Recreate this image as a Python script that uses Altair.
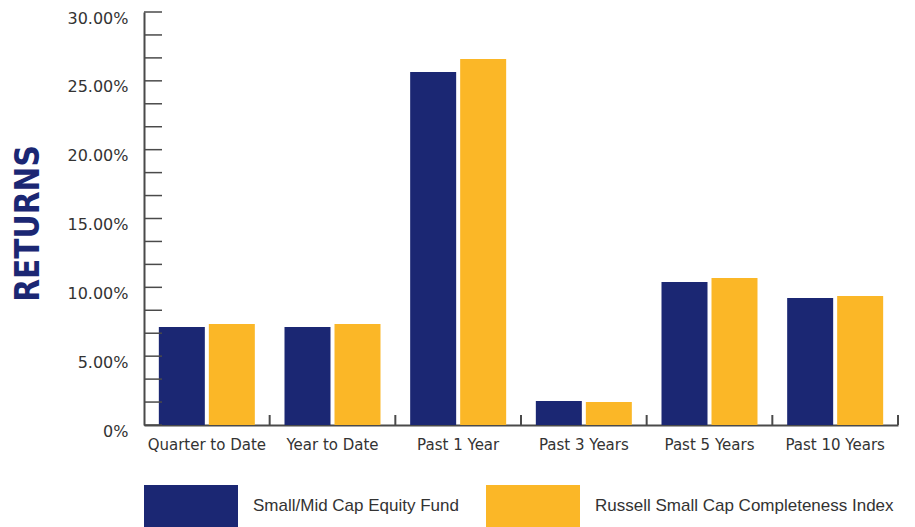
import altair as alt
import pandas as pd

periods = ["Quarter to Date", "Year to Date", "Past 1 Year", "Past 3 Years", "Past 5 Years", "Past 10 Years"]
series = ["Small/Mid Cap Equity Fund", "Russell Small Cap Completeness Index"]
fund = [7.12, 7.12, 25.64, 1.74, 10.38, 9.22]
index_vals = [7.33, 7.33, 26.58, 1.67, 10.67, 9.37]
colors = ["#1b2773", "#fbb727"]
y_label_values = [0, 5, 10, 15, 20, 25, 30]
y_tick_values = [i * 30 / 18 for i in range(19)]

rows = []
for p, f, ix in zip(periods, fund, index_vals):
    rows.append({"period": p, "series": series[0], "value": f})
    rows.append({"period": p, "series": series[1], "value": ix})
df = pd.DataFrame(rows)
ticks_df = pd.DataFrame({"v": y_tick_values})
per_df = pd.DataFrame({"period": periods})

AXC = "#4a4a4a"
TXT = "#333333"
PH = 413

yscale = alt.Scale(domain=[0, 30], nice=False, zero=True)
xscale = alt.Scale(domain=periods, paddingInner=0, paddingOuter=0)

bars = alt.Chart(df).mark_bar().encode(
    x=alt.X("period:N", sort=periods, scale=xscale, title=None,
            axis=alt.Axis(labelAngle=0, ticks=False, domainColor=AXC, domainWidth=2,
                          labelFont="DejaVu Sans", labelFontSize=15, labelColor=TXT,
                          labelPadding=12, labelLimit=200)),
    xOffset=alt.XOffset("series:N", sort=series,
                        scale=alt.Scale(domain=series, paddingInner=0.08, paddingOuter=0.2967)),
    y=alt.Y("value:Q", scale=yscale, title="RETURNS",
            axis=alt.Axis(values=y_label_values, ticks=False, tickSize=0, grid=False,
                          domainColor=AXC, domainWidth=2,
                          labelExpr="datum.value == 0 ? '0%' : format(datum.value, '.2f') + '%'",
                          labelFont="DejaVu Sans", labelFontSize=16, labelColor=TXT,
                          labelPadding=16, labelOffset=6,
                          titleFont="DejaVu Sans Condensed, sans-serif",
                          titleFontWeight="bold", titleFontSize=33, titleColor="#1b2773",
                          titleAngle=270, titleX=-116, titleY=211,
                          titleAlign="center", titleBaseline="middle")),
    color=alt.Color("series:N", sort=series,
                    scale=alt.Scale(domain=series, range=colors),
                    legend=alt.Legend(title=None, orient="none", legendX=0, legendY=447,
                                      direction="horizontal", columns=2, columnPadding=27,
                                      symbolType="M-1,-0.4468H1V0.4468H-1Z", symbolSize=8836,
                                      symbolStrokeWidth=0, symbolOpacity=1, labelOffset=15,
                                      labelFont="Liberation Sans", labelFontSize=17,
                                      labelColor=TXT, labelLimit=400)),
)

yticks = alt.Chart(ticks_df).mark_rule(color=AXC, strokeWidth=1.5).encode(
    y=alt.Y("v:Q", scale=yscale),
    x=alt.value(0),
    x2=alt.value(18),
)

xticks = alt.Chart(per_df).mark_rule(color=AXC, strokeWidth=2).encode(
    x=alt.X("period:N", sort=periods, scale=xscale, bandPosition=1),
    y=alt.value(PH - 10),
    y2=alt.value(PH),
)

chart = alt.layer(bars, yticks, xticks).properties(
    width=754, height=PH,
    padding={"left": 136, "top": 4, "right": 9, "bottom": 102},
    autosize=alt.AutoSizeParams(type="none"),
).configure_view(stroke=None)

chart.save("out.html", embed_options={"renderer": "svg", "actions": False})
